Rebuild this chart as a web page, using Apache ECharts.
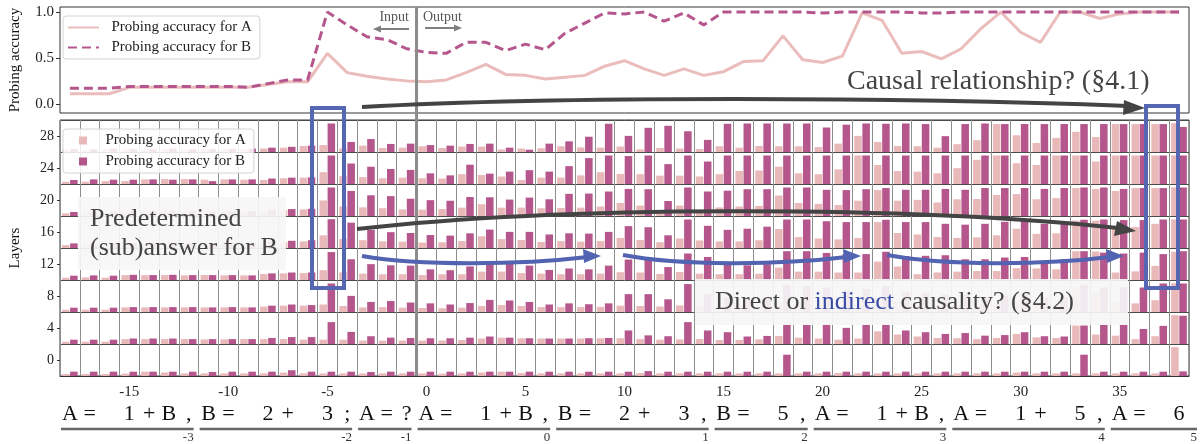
<!DOCTYPE html>
<html>
<head>
<meta charset="utf-8">
<script src="https://cdn.jsdelivr.net/npm/echarts@6.0.0/dist/echarts.min.js"></script>
<style>
  html, body { margin: 0; padding: 0; background: #fff; }
  #chart { width: 1203px; height: 444px; }
</style>
</head>
<body>
<div id="chart"></div>
<script>
// token positions (x categories) and the tokens sitting under them
var positions = ['-18','-17','-16','-15','-14','-13','-12','-11','-10','-9','-8','-7','-6','-5','-4','-3','-2','-1',
  '0','1','2','3','4','5','6','7','8','9','10','11','12','13','14','15','16','17','18','19','20',
  '21','22','23','24','25','26','27','28','29','30','31','32','33','34','35','36','37','38'];
var tokens = ['A','=','','1','+','B',',','B','=','','2','+','','3',';','A','=','?',
  'A','=','','1','+','B',',','B','=','','2','+','','3',',','B','=','','5',',',
  'A','=','','1','+','B',',','A','=','','1','+','','5',',','A','=','','6'];
var layerTicks = ['0','4','8','12','16','20','24','28'];
var accTicks = [0, 0.5, 1];

// clause underlines: label, first and last token position
var clauseLabels = ['-3','-2','-1','0','1','2','3','4','5'];
var clauseFirst = [-18,-11,-3,0,7,15,20,27,35];
var clauseLast = [-12,-4,-1,6,14,19,26,34,38];

// top panel: probing accuracy per position
var lineA = [0.11,0.11,0.11,0.18,0.18,0.18,0.18,0.18,0.18,0.18,0.21,0.24,0.24,0.55,0.34,0.30,0.27,0.25,
  0.24,0.26,0.34,0.43,0.32,0.31,0.27,0.29,0.31,0.41,0.47,0.38,0.31,0.38,0.31,0.35,0.46,0.47,0.74,0.48,
  0.45,0.52,0.99,0.91,0.55,0.57,0.49,0.60,0.82,1.00,0.78,0.67,1.00,1.00,0.93,0.98,1.00,1.00,1.00];
var lineB = [0.17,0.17,0.17,0.19,0.19,0.19,0.19,0.19,0.19,0.18,0.22,0.26,0.26,1.00,0.86,0.73,0.70,0.60,
  0.56,0.55,0.67,0.67,0.58,0.65,0.59,0.77,0.88,0.99,0.98,1.00,0.90,0.99,0.86,1.00,1.00,1.00,1.00,1.00,
  0.99,1.00,1.00,1.00,1.00,0.99,0.99,1.00,1.00,1.00,1.00,1.00,1.00,1.00,1.00,1.00,1.00,1.00,1.00];

// bottom panel: probing accuracy per layer band and position
var a28 = [0.08,0.08,0.10,0.09,0.10,0.10,0.09,0.10,0.10,0.10,0.12,0.15,0.21,0.24,0.12,0.22,0.14,0.15,
  0.20,0.14,0.19,0.19,0.09,0.12,0.13,0.20,0.16,0.15,0.19,0.09,0.14,0.12,0.10,0.20,0.15,0.21,0.20,0.20,
  0.17,0.29,0.56,0.35,0.21,0.20,0.15,0.27,0.41,0.97,0.58,0.31,0.49,0.70,0.52,0.97,0.97,0.97,1.00];
var b28 = [0.10,0.09,0.12,0.10,0.10,0.12,0.10,0.10,0.11,0.12,0.15,0.18,0.22,0.99,0.35,0.45,0.28,0.29,
  0.24,0.22,0.28,0.29,0.15,0.08,0.29,0.37,0.53,0.98,0.56,0.84,0.91,0.72,0.42,0.98,0.99,0.99,0.99,0.99,
  0.85,0.95,0.99,0.98,0.99,0.97,0.55,0.97,0.99,0.97,0.97,0.97,0.97,0.97,0.97,0.97,0.97,0.97,0.87];
var a24 = [0.08,0.08,0.10,0.10,0.16,0.17,0.17,0.15,0.16,0.15,0.14,0.20,0.22,0.41,0.27,0.24,0.20,0.22,
  0.20,0.19,0.34,0.31,0.26,0.14,0.22,0.22,0.30,0.41,0.35,0.34,0.29,0.29,0.26,0.34,0.45,0.47,0.60,0.37,
  0.34,0.51,0.99,0.66,0.45,0.43,0.37,0.55,0.84,0.99,0.72,0.66,0.99,0.99,0.78,0.99,0.99,0.99,0.99];
var b24 = [0.14,0.16,0.15,0.15,0.16,0.15,0.16,0.10,0.16,0.16,0.19,0.22,0.23,0.99,0.71,0.60,0.52,0.49,
  0.37,0.30,0.67,0.36,0.43,0.48,0.43,0.62,0.90,0.99,0.97,0.99,0.69,0.99,0.78,0.99,0.99,0.99,0.99,0.99,
  0.99,0.99,0.99,0.99,0.99,0.99,0.99,0.99,0.99,0.99,0.99,0.99,0.99,0.99,0.99,0.99,0.99,0.99,0.99];
var a20 = [0.09,0.10,0.10,0.15,0.16,0.16,0.16,0.15,0.15,0.15,0.17,0.20,0.23,0.54,0.33,0.30,0.27,0.23,
  0.22,0.24,0.29,0.41,0.29,0.29,0.27,0.28,0.29,0.33,0.45,0.36,0.15,0.36,0.13,0.30,0.33,0.35,0.71,0.45,
  0.42,0.38,0.53,0.90,0.53,0.56,0.47,0.58,0.59,0.73,0.76,0.58,0.62,0.97,0.94,0.87,0.97,0.97,0.99];
var b20 = [0.14,0.14,0.15,0.17,0.17,0.17,0.17,0.16,0.17,0.17,0.22,0.24,0.25,0.99,0.87,0.72,0.69,0.60,
  0.55,0.53,0.66,0.65,0.57,0.64,0.58,0.77,0.78,0.85,0.94,0.93,0.52,0.99,0.85,0.88,0.93,0.93,0.99,0.99,
  0.91,0.90,0.93,0.97,0.91,0.91,0.94,0.91,0.97,0.97,0.97,0.94,0.97,0.99,0.99,0.94,0.97,0.97,0.99];
var a16 = [0.10,0.10,0.10,0.15,0.16,0.16,0.16,0.15,0.15,0.16,0.18,0.20,0.23,0.44,0.31,0.27,0.23,0.22,
  0.19,0.20,0.24,0.41,0.31,0.28,0.21,0.24,0.22,0.24,0.35,0.28,0.20,0.33,0.26,0.23,0.23,0.27,0.66,0.38,
  0.33,0.30,0.35,0.90,0.52,0.47,0.38,0.35,0.37,0.44,0.67,0.49,0.51,0.95,0.95,0.70,0.73,0.84,0.99];
var b16 = [0.16,0.16,0.17,0.18,0.18,0.18,0.18,0.17,0.18,0.18,0.22,0.25,0.27,1.00,0.88,0.63,0.55,0.52,
  0.45,0.43,0.51,0.64,0.56,0.56,0.47,0.51,0.50,0.56,0.76,0.72,0.44,0.99,0.77,0.63,0.67,0.74,0.99,0.99,
  0.93,0.90,0.90,0.98,0.90,0.90,0.84,0.81,0.84,0.91,0.99,0.84,0.84,0.98,0.99,0.97,0.97,0.99,0.99];
var a12 = [0.08,0.09,0.08,0.17,0.17,0.17,0.16,0.17,0.16,0.16,0.21,0.23,0.24,0.34,0.26,0.22,0.20,0.20,
  0.17,0.20,0.20,0.29,0.29,0.24,0.22,0.20,0.20,0.22,0.27,0.26,0.21,0.28,0.22,0.20,0.20,0.22,0.43,0.29,
  0.29,0.26,0.26,0.64,0.47,0.20,0.26,0.29,0.31,0.31,0.41,0.40,0.37,1.00,0.99,0.26,0.30,0.49,0.98];
var b12 = [0.15,0.16,0.15,0.18,0.17,0.18,0.17,0.17,0.17,0.16,0.23,0.26,0.26,0.97,0.72,0.55,0.51,0.50,
  0.37,0.34,0.47,0.57,0.62,0.50,0.35,0.40,0.37,0.50,0.71,0.70,0.45,0.92,0.80,0.55,0.51,0.55,1.00,1.00,
  0.94,0.90,0.90,0.98,0.83,0.84,0.86,0.72,0.72,0.78,0.80,0.66,0.72,1.00,0.95,0.92,0.95,0.90,1.00];
var a8 = [0.08,0.08,0.08,0.16,0.16,0.16,0.16,0.16,0.16,0.16,0.19,0.22,0.22,0.26,0.21,0.16,0.17,0.15,
  0.14,0.13,0.15,0.21,0.24,0.21,0.17,0.17,0.17,0.18,0.22,0.21,0.19,0.23,0.22,0.20,0.20,0.20,0.35,0.25,
  0.24,0.22,0.24,0.50,0.38,0.22,0.22,0.24,0.25,0.26,0.35,0.30,0.28,0.85,0.70,0.35,0.30,0.41,1.00];
var b8 = [0.15,0.15,0.15,0.17,0.17,0.17,0.17,0.16,0.17,0.16,0.22,0.26,0.24,0.99,0.56,0.35,0.38,0.33,
  0.30,0.26,0.31,0.42,0.40,0.35,0.26,0.30,0.27,0.30,0.62,0.62,0.44,0.97,0.62,0.50,0.42,0.45,0.95,0.90,
  0.85,0.75,0.80,0.90,0.70,0.65,0.60,0.60,0.50,0.55,0.65,0.50,0.50,0.95,0.85,0.85,0.85,0.99,0.99];
var a4 = [0.08,0.08,0.08,0.17,0.17,0.17,0.17,0.16,0.16,0.17,0.17,0.17,0.15,0.15,0.15,0.12,0.12,0.12,
  0.12,0.12,0.14,0.19,0.22,0.20,0.19,0.19,0.19,0.20,0.20,0.17,0.15,0.16,0.17,0.14,0.14,0.16,0.28,0.22,
  0.19,0.15,0.19,0.44,0.33,0.26,0.21,0.20,0.17,0.21,0.35,0.23,0.21,0.64,0.33,0.29,0.17,0.27,1.00];
var b4 = [0.15,0.15,0.15,0.19,0.19,0.19,0.17,0.17,0.17,0.17,0.21,0.24,0.24,0.76,0.42,0.27,0.22,0.21,
  0.20,0.20,0.22,0.26,0.22,0.20,0.19,0.19,0.20,0.21,0.47,0.30,0.27,0.76,0.47,0.41,0.26,0.28,0.67,0.67,
  0.67,0.56,0.67,0.67,0.47,0.41,0.35,0.38,0.29,0.31,0.41,0.27,0.26,0.64,0.67,0.67,0.52,0.63,0.98];
var a0 = [0.07,0.07,0.07,0.08,0.15,0.12,0.09,0.09,0.09,0.09,0.09,0.12,0.09,0.09,0.09,0.09,0.09,0.09,
  0.09,0.08,0.09,0.12,0.15,0.10,0.09,0.09,0.09,0.09,0.09,0.10,0.09,0.09,0.09,0.09,0.09,0.09,0.09,0.09,
  0.09,0.10,0.09,0.09,0.09,0.09,0.09,0.09,0.09,0.09,0.12,0.09,0.09,0.09,0.09,0.09,0.09,0.09,1.00];
var b0 = [0.15,0.15,0.15,0.15,0.15,0.15,0.15,0.14,0.15,0.15,0.15,0.20,0.15,0.15,0.15,0.14,0.15,0.15,
  0.15,0.15,0.15,0.15,0.15,0.15,0.15,0.15,0.15,0.15,0.15,0.17,0.15,0.15,0.15,0.15,0.15,0.15,0.74,0.15,
  0.15,0.15,0.15,0.15,0.15,0.15,0.15,0.15,0.15,0.15,0.15,0.15,0.15,0.74,0.15,0.15,0.15,0.15,0.16];

var chart = echarts.init(document.getElementById('chart'));
var SERIF = '"Liberation Serif", "DejaVu Serif", serif';
var colA = '#e9b8b8', colB = '#b5568d';

var bandsA = [a0, a4, a8, a12, a16, a20, a24, a28];
var bandsB = [b0, b4, b8, b12, b16, b20, b24, b28];
var dataA = [], dataB = [];
for (var r = 0; r < bandsA.length; r++) {
  for (var i = 0; i < positions.length; i++) {
    dataA.push([i, r, bandsA[r][i]]);
    dataB.push([i, r, bandsB[r][i]]);
  }
}

function barRenderer(left, color) {
  return function (params, api) {
    var c = api.coord([api.value(0), api.value(1)]);
    var s = api.size([1, 1]);
    var h = api.value(2) * s[1] * 0.9;
    var base = c[1] + s[1] / 2;
    var x = left ? c[0] - 0.4 * s[0] : c[0] + 0.01 * s[0];
    return {
      type: 'rect',
      shape: { x: x, y: base - h, width: 0.38 * s[0], height: h },
      style: { fill: color }
    };
  };
}

var labelStyle = { fontFamily: SERIF, fontSize: 15, color: '#222' };

var option = {
  animation: false,
  grid: [
    { left: 55, right: 14, top: 7, height: 106, show: true, borderColor: '#333', borderWidth: 1 },
    { left: 55, right: 14, top: 120, height: 256, show: true, borderColor: '#333', borderWidth: 1 }
  ],
  legend: [
    {
      top: 16, left: 63, orient: 'vertical', itemWidth: 31, itemHeight: 10, itemGap: 5,
      padding: [4, 8, 4, 4], borderColor: '#d4d4d4', borderWidth: 1, borderRadius: 3,
      backgroundColor: '#fff',
      itemStyle: { opacity: 0 },
      data: ['Probing accuracy for A', 'Probing accuracy for B'],
      formatter: function (n) { return '  ' + n; },
      textStyle: labelStyle
    },
    {
      top: 129, left: 63, orient: 'vertical', itemWidth: 20, itemHeight: 8, itemGap: 6,
      padding: [4, 8, 4, 16], borderColor: '#d4d4d4', borderWidth: 1, borderRadius: 3,
      backgroundColor: 'rgba(255,255,255,0.85)',
      data: [
        { name: 'barsA', icon: 'path://M0,0H10V10H0Z' },
        { name: 'barsB', icon: 'path://M0,0H10V10H0Z' }
      ],
      formatter: function (n) { return n === 'barsA' ? '  Probing accuracy for A' : '  Probing accuracy for B'; },
      textStyle: labelStyle
    }
  ],
  xAxis: [
    {
      gridIndex: 0, type: 'category', data: positions, boundaryGap: true,
      axisLine: { show: false }, axisTick: { show: false }, axisLabel: { show: false }
    },
    {
      gridIndex: 1, type: 'category', data: positions, boundaryGap: true,
      axisLine: { lineStyle: { color: '#333' } },
      axisTick: { interval: 0, alignWithLabel: true, length: 4, lineStyle: { color: '#333' } },
      axisLabel: {
        interval: function (idx, val) { return Number(val) % 5 === 0; },
        fontFamily: SERIF, fontSize: 15, color: '#222', margin: 9
      },
      splitLine: { show: true, interval: 0, lineStyle: { color: '#8e8e8e', width: 1 } }
    },
    {
      gridIndex: 1, type: 'category', data: positions, boundaryGap: true, position: 'bottom', offset: 23,
      axisLine: { show: false }, axisTick: { show: false },
      axisLabel: {
        interval: 0, margin: 4, fontFamily: SERIF, fontSize: 22, color: '#111',
        formatter: function (v, idx) { return tokens[idx]; }
      }
    }
  ],
  yAxis: [
    {
      gridIndex: 0, type: 'value', min: -0.1, max: 1.055,
      name: 'Probing accuracy', nameLocation: 'middle', nameGap: 37,
      nameTextStyle: { fontFamily: SERIF, fontSize: 15, color: '#111' },
      axisLine: { show: false }, splitLine: { show: false },
      axisTick: { show: true, customValues: accTicks, length: 4, lineStyle: { color: '#333' } },
      axisLabel: {
        customValues: accTicks, margin: 6, fontFamily: SERIF, fontSize: 15, color: '#222',
        formatter: function (v) { return v.toFixed(1); }
      }
    },
    {
      gridIndex: 1, type: 'category', data: layerTicks, boundaryGap: true,
      name: 'Layers', nameLocation: 'middle', nameGap: 37,
      nameTextStyle: { fontFamily: SERIF, fontSize: 15, color: '#111' },
      axisLine: { show: false },
      axisTick: { show: true, alignWithLabel: true, length: 3, lineStyle: { color: '#333' } },
      axisLabel: { fontFamily: SERIF, fontSize: 14, color: '#222', margin: 6 },
      splitLine: { show: true, interval: 0, lineStyle: { color: '#4a4a4a', width: 1 } }
    }
  ],
  series: [
    {
      name: 'barsA', type: 'custom', xAxisIndex: 1, yAxisIndex: 1,
      renderItem: barRenderer(true, colA), itemStyle: { color: colA },
      encode: { x: 0, y: 1 }, data: dataA
    },
    {
      name: 'barsB', type: 'custom', xAxisIndex: 1, yAxisIndex: 1,
      renderItem: barRenderer(false, colB), itemStyle: { color: colB },
      encode: { x: 0, y: 1 }, data: dataB
    },
    {
      name: 'Probing accuracy for A', type: 'line', xAxisIndex: 0, yAxisIndex: 0,
      data: lineA, symbol: 'none', itemStyle: { color: '#ebbcbc' },
      lineStyle: { color: '#ebbcbc', width: 3 }
    },
    {
      name: 'Probing accuracy for B', type: 'line', xAxisIndex: 0, yAxisIndex: 0,
      data: lineB, symbol: 'none', itemStyle: { color: '#b5568d' },
      lineStyle: { color: '#b5568d', width: 3, type: [9, 5] }
    }
  ]
};
chart.setOption(option);

// annotations
function px(i) { return chart.convertToPixel({ xAxisIndex: 1 }, i); }
var cw = px(1) - px(0);
var g = [];
var xSep = (px(17) + px(18)) / 2;
g.push({ type: 'line', z: 50, shape: { x1: xSep, y1: 7, x2: xSep, y2: 376 }, style: { stroke: '#8c8c8c', lineWidth: 3 } });

for (var k = 0; k < clauseLabels.length; k++) {
  var x1 = px(clauseFirst[k] + 18) - cw / 2 + 1;
  var x2 = px(clauseLast[k] + 18) + cw / 2 - 5;
  if (k === clauseLabels.length - 1) x2 += 13;
  g.push({ type: 'line', shape: { x1: x1, y1: 429, x2: x2, y2: 429 }, style: { stroke: '#666', lineWidth: 2.5 } });
  g.push({ type: 'text', x: x2, y: 438, style: { text: clauseLabels[k], align: 'right', verticalAlign: 'middle', font: '13px ' + SERIF, fill: '#333' } });
}

var ink = '#444', blue = '#5263b2';
function head(pts, color) {
  return { type: 'polygon', z: 101, shape: { points: pts }, style: { fill: color } };
}
function curve(x1, y1, c1x, c1y, c2x, c2y, x2, y2, color) {
  return { type: 'bezierCurve', z: 101, shape: { x1: x1, y1: y1, cpx1: c1x, cpy1: c1y, cpx2: c2x, cpy2: c2y, x2: x2, y2: y2 },
    style: { stroke: color, lineWidth: 4, fill: null } };
}

// input / output markers
g.push({ type: 'text', z: 60, x: 409, y: 17, style: { text: 'Input', align: 'right', verticalAlign: 'middle', font: '14px ' + SERIF, fill: '#555' } });
g.push({ type: 'line', z: 60, shape: { x1: 409, y1: 29, x2: 380, y2: 29 }, style: { stroke: '#808080', lineWidth: 2 } });
g.push({ type: 'polygon', z: 60, shape: { points: [[373, 29], [381, 25.5], [381, 32.5]] }, style: { fill: '#808080' } });
g.push({ type: 'text', z: 60, x: 423, y: 17, style: { text: 'Output', align: 'left', verticalAlign: 'middle', font: '14px ' + SERIF, fill: '#555' } });
g.push({ type: 'line', z: 60, shape: { x1: 425, y1: 28, x2: 455, y2: 28 }, style: { stroke: '#808080', lineWidth: 2 } });
g.push({ type: 'polygon', z: 60, shape: { points: [[462, 28], [454, 24.5], [454, 31.5]] }, style: { fill: '#808080' } });

// causal relationship
g.push({ type: 'text', z: 100, x: 847, y: 82, style: { text: 'Causal relationship? (§4.1)', verticalAlign: 'middle', font: '28px ' + SERIF, fill: ink } });
g.push(curve(362, 107, 560, 96, 900, 97, 1128, 106, ink));
g.push(head([[1145, 108], [1124, 100], [1123, 115]], ink));

// predetermined box
g.push({ type: 'rect', z: 100, shape: { x: 78, y: 197, width: 208, height: 73 }, style: { fill: 'rgba(246,246,246,0.92)' } });
g.push({ type: 'text', z: 101, x: 90, y: 219, style: { text: 'Predetermined', verticalAlign: 'middle', font: '26px ' + SERIF, fill: ink } });
g.push({ type: 'text', z: 101, x: 90, y: 248, style: { text: '(sub)answer for B', verticalAlign: 'middle', font: '26px ' + SERIF, fill: ink } });

// blue frames
g.push({ type: 'rect', z: 102, shape: { x: 312, y: 108, width: 32, height: 180 }, style: { fill: null, stroke: '#5566b3', lineWidth: 4 } });
g.push({ type: 'rect', z: 102, shape: { x: 1146, y: 106, width: 32, height: 182 }, style: { fill: null, stroke: '#5566b3', lineWidth: 4 } });

// long dark arrow in the layer grid
g.push(curve(357, 229, 560, 206, 900, 205, 1118, 228, ink));
g.push(head([[1136, 231], [1117, 221], [1114, 236]], ink));

// blue chain arrows
g.push(curve(362, 256, 420, 266, 520, 265, 588, 257, blue));
g.push(head([[601, 256], [583, 249], [584, 263]], blue));
g.push(curve(623, 255, 680, 266, 780, 265, 847, 257, blue));
g.push(head([[861, 256], [843, 249], [844, 263]], blue));
g.push(curve(887, 255, 945, 266, 1045, 265, 1110, 257, blue));
g.push(head([[1124, 256], [1106, 249], [1107, 263]], blue));

// direct / indirect box
g.push({ type: 'rect', z: 100, shape: { x: 695, y: 279, width: 433, height: 46 }, style: { fill: 'rgba(246,246,246,0.92)' } });
g.push({ type: 'text', z: 101, x: 715, y: 302, style: {
  text: 'Direct or {b|indirect} causality? (§4.2)', verticalAlign: 'middle', font: '26px ' + SERIF, fill: ink,
  rich: { b: { fill: '#3a4da6', font: '26px ' + SERIF } } } });

chart.setOption({ graphic: { elements: g } });
</script>
</body>
</html>
